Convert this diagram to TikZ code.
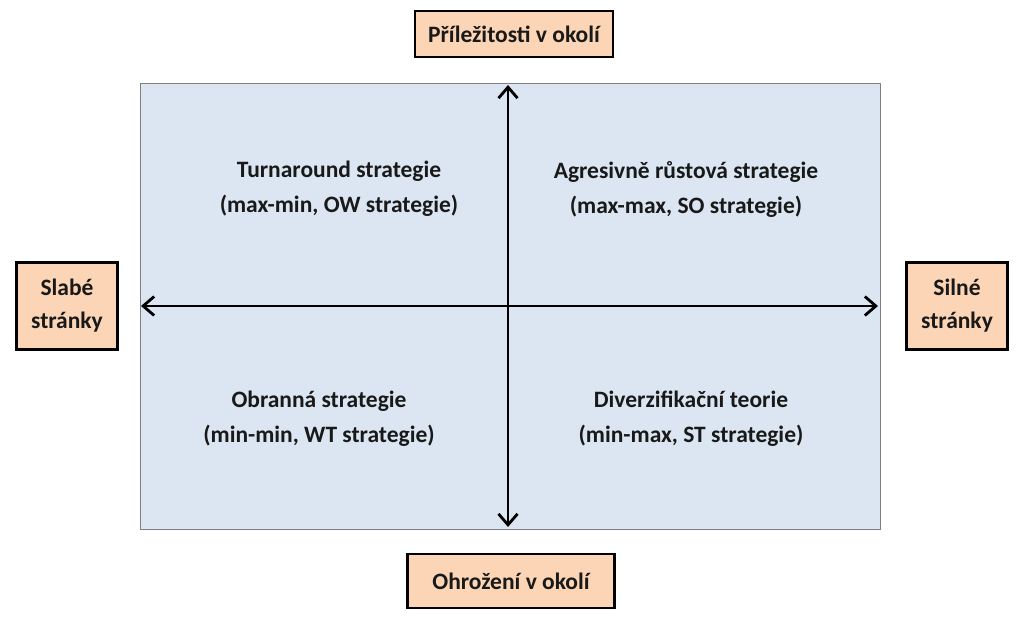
\documentclass[tikz,border=0pt]{standalone}
\usepackage{fontspec}
\setmainfont{Carlito}
\usetikzlibrary{arrows.meta}
\definecolor{panel}{HTML}{DCE6F2}
\definecolor{peach}{HTML}{FBD5B5}
\definecolor{frame}{HTML}{7F7F7F}
\tikzset{
  labelbox/.style={draw=black, line width=2.8pt, fill=peach, font=\bfseries\fontsize{23.5}{33}\selectfont, align=center, inner sep=0pt, text=black!90},
  quad/.style={font=\bfseries\fontsize{23.5}{35}\selectfont, align=center, text=black!90},
  axis/.style={line width=2.8pt, {Straight Barb[length=11pt,width=19pt,line width=2.8pt]}-{Straight Barb[length=11pt,width=19pt,line width=2.8pt]}}
}
\begin{document}
\begin{tikzpicture}[x=1pt,y=-1pt]
\useasboundingbox (0,0) rectangle (1024,623);
\node[draw=frame, line width=1.2pt, fill=panel, minimum width=740pt, minimum height=446pt, inner sep=0pt, anchor=north west] (panel) at (140,83) {};
\node[labelbox, minimum width=198pt, minimum height=46pt] (top) at (514,34) {Příležitosti v okolí};
\node[labelbox, minimum width=207pt, minimum height=54pt] (bottom) at (511,581) {Ohrožení v okolí};
\node[labelbox, minimum width=101pt, minimum height=87pt] (left) at (67,306) {Slabé\\stránky};
\node[labelbox, minimum width=101pt, minimum height=87pt] (right) at (957,306) {Silné\\stránky};
\coordinate (vt) at (508,85);
\coordinate (vb) at (508,527);
\coordinate (hl) at (141,306);
\coordinate (hr) at (878,306);
\draw[axis] (vt) -- (vb);
\draw[axis] (hl) -- (hr);
\node[quad] (tl) at (339,189) {Turnaround strategie\\(max-min, OW strategie)};
\node[quad] (tr) at (686,189) {Agresivně růstová strategie\\(max-max, SO strategie)};
\node[quad] (bl) at (319,419) {Obranná strategie\\(min-min, WT strategie)};
\node[quad] (br) at (691,419) {Diverzifikační teorie\\(min-max, ST strategie)};
\end{tikzpicture}
\end{document}
